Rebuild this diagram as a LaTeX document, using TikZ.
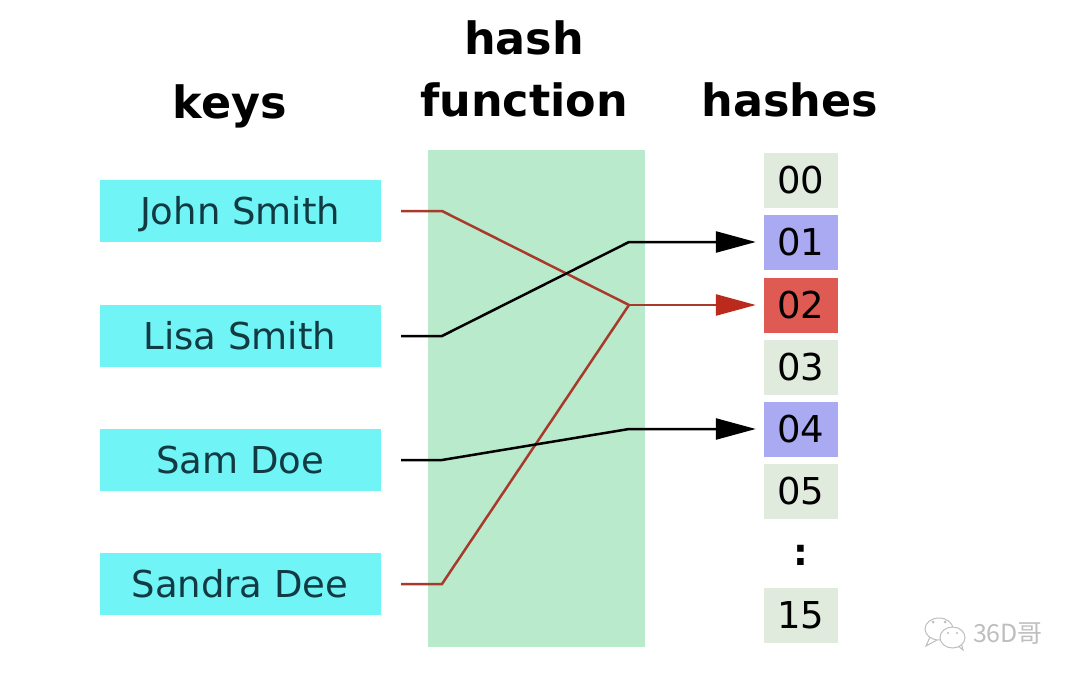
\documentclass[tikz,border=0pt]{standalone}
\usepackage{fontspec}
\setmainfont{DejaVu Sans}
\newfontfamily\cjk{Noto Sans CJK SC}
\usetikzlibrary{positioning,arrows.meta}
\definecolor{keycol}{HTML}{70F4F6}
\definecolor{funccol}{HTML}{B8EACB}
\definecolor{slotcol}{HTML}{E0EBDD}
\definecolor{usedcol}{HTML}{AAAAF2}
\definecolor{hitcol}{HTML}{DE5A52}
\definecolor{redline}{HTML}{A83A2C}
\definecolor{redtip}{HTML}{BC2A1E}
\definecolor{keytext}{HTML}{123A42}
\definecolor{markcol}{HTML}{BEBEBE}
\begin{document}
\begin{tikzpicture}[x=1pt,y=-1pt,>={Triangle[length=40pt,width=21pt]},
		key/.style={rectangle,fill=keycol,minimum width=281pt,minimum height=62pt,inner sep=0pt,text height=27pt,text depth=0pt,font=\fontsize{37}{37}\selectfont,text=keytext},
		slot/.style={rectangle,fill=slotcol,minimum width=74pt,minimum height=55pt,inner sep=0pt,text height=27pt,text depth=0pt,font=\fontsize{37}{37}\selectfont},
		head/.style={inner sep=0pt,anchor=base,font=\fontsize{44.5}{62}\selectfont\bfseries,align=center},
		wire/.style={line width=2.5pt},
		tipwire/.style={wire,shorten >=8pt},
		bubble/.style={draw=markcol,fill=white,line width=1pt}]
		\useasboundingbox (0,0) rectangle (1080,680);
		% headings
		\node[head] (keys)    at (230,118) {keys};
		\node[head] (func)    at (524,116) {hash\\function};
		\node[head] (hashes)  at (790,116) {hashes};
		
		\node[rectangle,fill=funccol,minimum width=217pt,minimum height=497pt,inner sep=0pt] (box) at (536.5,398) {};
		
		% keys
		\node[key] (john)   at (240,211) {John Smith};
		\node[key] (lisa)   at (240,336) {Lisa Smith};
		\node[key] (sam)    at (240,460) {Sam Doe};
		\node[key] (sandra) at (240,584) {Sandra Dee};
		
		% hashes
		\node[slot] (h00) at (801,180) {00};
		\node[slot,fill=usedcol] (h01) at (801,242) {01};
		\node[slot,fill=hitcol]  (h02) at (801,305) {02};
		\node[slot] (h03) at (801,367) {03};
		\node[slot,fill=usedcol] (h04) at (801,429) {04};
		\node[slot] (h05) at (801,491) {05};
		\node[inner sep=0pt,font=\fontsize{37}{37}\selectfont\bfseries] (dots) at (801,555) {:};
		\node[slot] (h15) at (801,615) {15};
		
		% wires
		\coordinate (j1) at (401,211);
		\coordinate (j2) at (442,211);
		\coordinate (l1) at (401,336);
		\coordinate (l2) at (442,336);
		\coordinate (m1) at (401,460);
		\coordinate (m2) at (442,460);
		\coordinate (d1) at (401,584);
		\coordinate (d2) at (442,584);
		\coordinate (a1) at (629,242);
		\coordinate (a2) at (629,305);
		\coordinate (a4) at (629,429);
		
		\draw[wire,redline] (j1) -- (j2) -- (a2);
		\draw[wire,redline] (d1) -- (d2) -- (a2);
		\draw[tipwire,->,black] (l1) -- (l2) -- (a1) -- (h01.west);
		\draw[tipwire,->,black] (m1) -- (m2) -- (a4) -- (h04.west);
		\draw[tipwire,redline,-{Triangle[length=40pt,width=21pt,color=redtip]}] (a2) -- (h02.west);
		
		% watermark
		\draw[bubble] (930,637) -- (926,646) -- (937,640);
		\draw[bubble] (939,629) ellipse (14pt and 11pt);
		\draw[bubble] (957,645) -- (963,650) -- (961,642);
		\draw[bubble] (952.5,637.5) ellipse (12.5pt and 10.5pt);
		\fill[markcol] (948,633) circle (1.2pt) (957,633) circle (1.2pt) (933,622) circle (1.5pt) (945,622) circle (1.5pt);
		\node[inner sep=0pt,text=markcol,font=\fontsize{25}{25}\cjk] (mark36) at (1008,634) {36D哥};
		\end{tikzpicture}
\end{document}
